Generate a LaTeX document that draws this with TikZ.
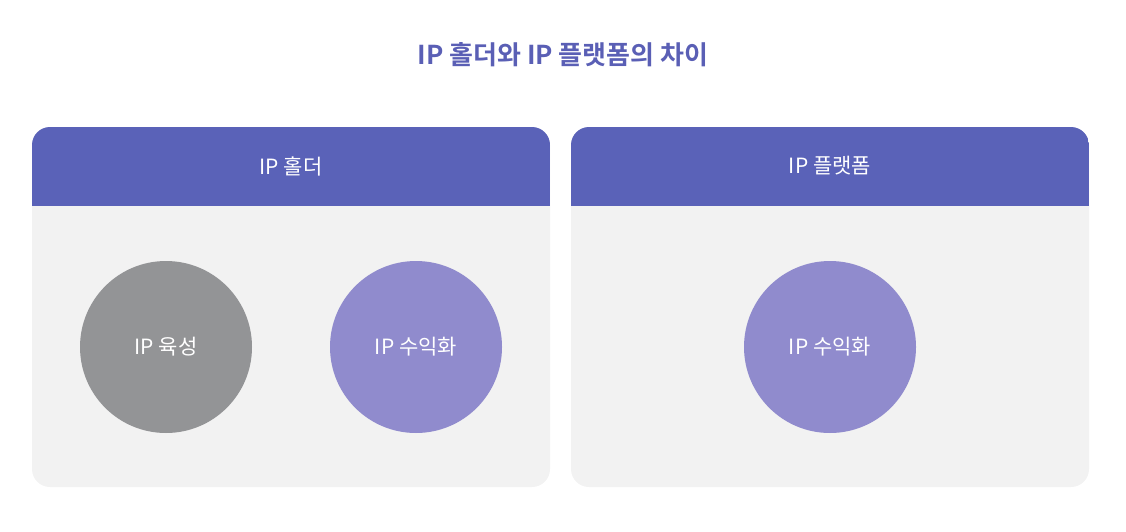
\documentclass[tikz,border=0pt]{standalone}
\usepackage{fontspec}
\setmainfont{Noto Sans CJK KR}
\newfontfamily\krbold{Noto Sans CJK KR Bold}
\definecolor{hdr}{HTML}{5A62B8}
\definecolor{ttl}{HTML}{5A5FB5}
\definecolor{bodyg}{HTML}{F2F2F2}
\definecolor{cgray}{HTML}{939496}
\definecolor{cpurp}{HTML}{908BCD}
\begin{document}
\begin{tikzpicture}[x=1pt,y=1pt,
  circ/.style={circle,minimum size=172pt,inner sep=0pt,text=white,font=\fontsize{21}{24}\selectfont},
  htext/.style={text=white,font=\fontsize{21}{24}\selectfont}]
\useasboundingbox (0,0) rectangle (1126,-532);
\node[text=ttl,font=\krbold\fontsize{26}{30}\selectfont] (title) at (563,-55) {IP 홀더와 IP 플랫폼의 차이};
\foreach \xa/\xb/\nm in {32/550/L,571/1089/R}{
  \fill[bodyg,rounded corners=18pt] (\xa,-127) rectangle (\xb,-487);
  \begin{scope}
    \clip[rounded corners=18pt] (\xa,-127) rectangle (\xb,-487);
    \fill[hdr] (\xa,-127) rectangle (\xb,-206);
  \end{scope}
}
\node[htext] (hl) at (291,-166) {IP 홀더};
\node[htext] (hr) at (830,-166) {IP 플랫폼};
\node[circ,fill=cgray] (c1) at (166,-347) {IP 육성};
\node[circ,fill=cpurp] (c2) at (416,-347) {IP 수익화};
\node[circ,fill=cpurp] (c3) at (830,-347) {IP 수익화};
\end{tikzpicture}
\end{document}
